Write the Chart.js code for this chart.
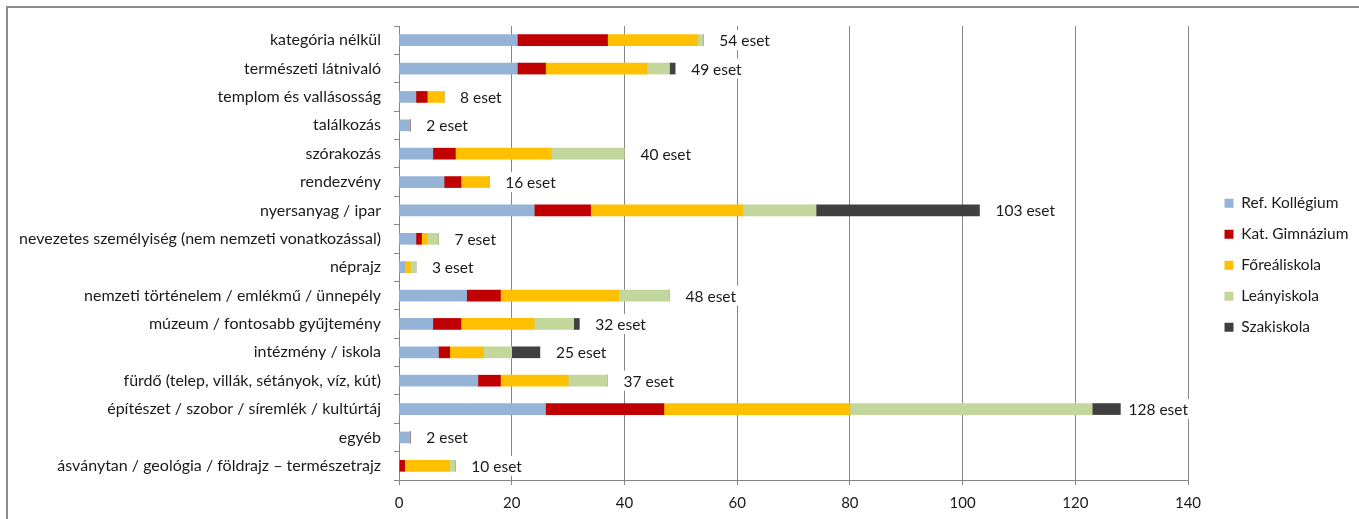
<!DOCTYPE html>
<html><head><meta charset="utf-8">
<script src="https://cdn.jsdelivr.net/npm/chart.js@4"></script>
<style>
html,body{margin:0;padding:0;background:#fff;overflow:hidden;}
#frame{position:absolute;left:6px;top:6px;width:1400px;height:560px;border:2px solid #8c8c8c;box-sizing:border-box;}
#wrap{position:absolute;left:0;top:0;width:1359px;height:519px;}
</style></head><body>
<div id="frame"></div>
<div id="wrap"><canvas id="c"></canvas></div>
<script>
const categories = [
  'kategória nélkül',
  'természeti látnivaló',
  'templom és vallásosság',
  'találkozás',
  'szórakozás',
  'rendezvény',
  'nyersanyag / ipar',
  'nevezetes személyiség (nem nemzeti vonatkozással)',
  'néprajz',
  'nemzeti történelem / emlékmű / ünnepély',
  'múzeum / fontosabb gyűjtemény',
  'intézmény / iskola',
  'fürdő (telep, villák, sétányok, víz, kút)',
  'építészet / szobor / síremlék / kultúrtáj',
  'egyéb',
  'ásványtan / geológia / földrajz – természetrajz'
];
const refKollegium = [21, 21, 3, 2, 6, 8, 24, 3, 1, 12, 6, 7, 14, 26, 2, 0];
const katGimnazium = [16, 5, 2, 0, 4, 3, 10, 1, 0, 6, 5, 2, 4, 21, 0, 1];
const forealiskola = [16, 18, 3, 0, 17, 5, 27, 1, 1, 21, 13, 6, 12, 33, 0, 8];
const leanyiskola  = [1, 4, 0, 0, 13, 0, 13, 2, 1, 9, 7, 5, 7, 43, 0, 1];
const szakiskola   = [0, 1, 0, 0, 0, 0, 29, 0, 0, 0, 1, 5, 0, 5, 0, 0];
const seriesNames = ['Ref. Kollégium', 'Kat. Gimnázium', 'Főreáliskola', 'Leányiskola', 'Szakiskola'];
const xTicks = [0, 20, 40, 60, 80, 100, 120, 140];
const labelSuffix = ' eset';

const seriesValues = [refKollegium, katGimnazium, forealiskola, leanyiskola, szakiskola];
const colors = ['#95B3D7', '#C00000', '#FFC000', '#C3D69B', '#404040'];
const totals = categories.map((_, i) => seriesValues.reduce((s, arr) => s + arr[i], 0));

const FONT = 'Lato';
const TEXT = '#1a1a1a';
const GRID = '#868686';

const totalLabels = {
  id: 'totalLabels',
  afterDatasetsDraw(chart) {
    const {ctx, chartArea} = chart;
    const x = chart.scales.x, y = chart.scales.y;
    ctx.save();
    ctx.font = '15.5px ' + FONT;
    ctx.textBaseline = 'middle';
    ctx.textAlign = 'left';
    totals.forEach((t, i) => {
      const txt = t + labelSuffix;
      const w = ctx.measureText(txt).width;
      const end = x.getPixelForValue(t);
      let px = end + 16;
      if (px + w > chartArea.right) px = Math.max(end + 6, chartArea.right - w);
      const py = y.getPixelForValue(i);
      ctx.fillStyle = '#ffffff';
      ctx.fillRect(px - 3, py - 10, w + 6, 20);
      ctx.fillStyle = TEXT;
      ctx.fillText(txt, px, py + 1);
    });
    ctx.restore();
  }
};

const legendPlace = {
  id: 'legendPlace',
  afterInit(chart) {
    const lg = chart.legend;
    const orig = lg.fit.bind(lg);
    lg.fit = function () { orig(); this.width = 1359 - 1188; };
  },
  afterLayout(chart) {
    const lg = chart.legend;
    const w = lg.width, h = lg.height;
    lg.left = chart.chartArea.right + 21;
    lg.right = lg.left + w;
    lg.top = 180;
    lg.bottom = lg.top + h;
  }
};

new Chart(document.getElementById('c'), {
  type: 'bar',
  data: {
    labels: categories,
    datasets: seriesValues.map((vals, k) => ({
      label: seriesNames[k],
      data: vals,
      backgroundColor: colors[k],
      borderWidth: 0,
      barThickness: 11
    }))
  },
  options: {
    indexAxis: 'y',
    responsive: true,
    maintainAspectRatio: false,
    animation: false,
    layout: {padding: {left: 0, top: 26, right: 0, bottom: 0}},
    scales: {
      x: {
        stacked: true,
        min: 0, max: 140,
        afterBuildTicks(s) { s.ticks = xTicks.map(v => ({value: v})); },
        afterFit(s) { s.height = 519 - 480; },
        grid: {color: GRID, lineWidth: 1, drawTicks: true, tickLength: 5, tickColor: GRID},
        border: {display: true, color: GRID, width: 1},
        ticks: {color: TEXT, font: {family: FONT, size: 15}, padding: 9}
      },
      y: {
        stacked: true,
        afterFit(s) { s.width = 399; },
        grid: {drawOnChartArea: false, drawTicks: true, tickLength: 5, color: GRID, offset: true},
        border: {display: true, color: GRID, width: 1},
        ticks: {color: TEXT, font: {family: FONT, size: 16}, padding: 13, autoSkip: false}
      }
    },
    plugins: {
      legend: {
        position: 'right',
        align: 'start',
        labels: {boxWidth: 9, boxHeight: 9, padding: 15.5, color: TEXT, font: {family: FONT, size: 15.5}}
      },
      tooltip: {enabled: false}
    }
  },
  plugins: [totalLabels, legendPlace]
});
</script>
</body></html>
